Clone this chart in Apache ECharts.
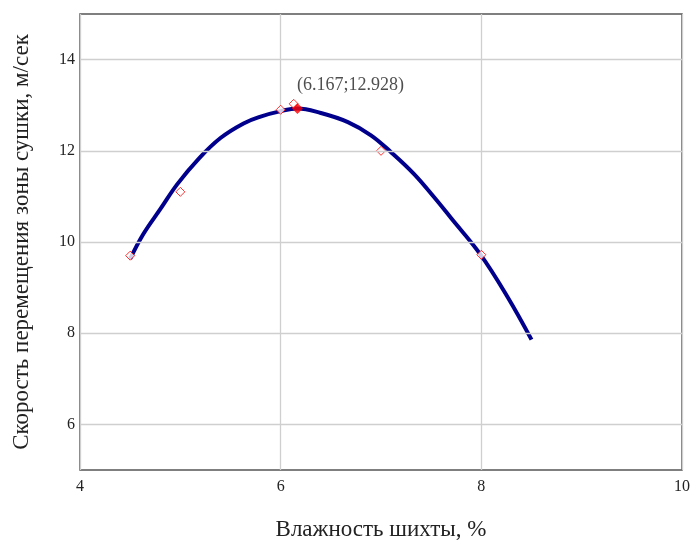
<!DOCTYPE html>
<html>
<head>
<meta charset="utf-8">
<script src="https://cdn.jsdelivr.net/npm/echarts@6/dist/echarts.min.js"></script>
<style>
  html, body { margin: 0; padding: 0; background: #fff; }
  #chart { width: 694px; height: 542px; }
</style>
</head>
<body>
<div id="chart"></div>
<script>
  // measured points (hollow diamonds)
  const measX = [4.5, 5, 6, 6.13, 7, 8];
  const measY = [9.7, 11.1, 12.9, 13.03, 12.0, 9.72];

  // fitted curve
  const fitX = [4.5, 4.63, 4.8, 4.97, 5.18, 5.4, 5.63, 5.8, 6.0, 6.167, 6.4, 6.67, 6.9, 7.1, 7.33, 7.53, 7.7, 7.99, 8.26, 8.5];
  const fitY = [9.63, 10.17, 10.72, 11.27, 11.82, 12.28, 12.6, 12.75, 12.87, 12.928, 12.83, 12.63, 12.34, 11.97, 11.49, 10.98, 10.52, 9.73, 8.8, 7.86];

  // maximum
  const maxX = 6.167;
  const maxY = 12.928;

  const yTicks = [6, 8, 10, 12, 14];

  const serif = '"Liberation Serif", "DejaVu Serif", serif';

  let chart = echarts.init(document.getElementById('chart'));
  chart.setOption({
    animation: false,
    grid: {
      left: 80,
      right: 12,
      top: 14,
      bottom: 72,
      outerBoundsMode: 'none',
      containLabel: false,
      show: true,
      borderColor: '#555',
      borderWidth: 1.5
    },
    xAxis: {
      type: 'value',
      min: 4,
      max: 10,
      interval: 2,
      name: 'Влажность шихты, %',
      nameLocation: 'middle',
      nameGap: 48,
      nameTextStyle: { fontFamily: serif, fontSize: 23, color: '#222' },
      axisLine: { show: false },
      axisTick: { show: false },
      axisLabel: { fontFamily: serif, fontSize: 16, color: '#222', margin: 9 },
      splitLine: { lineStyle: { color: '#cfcfcf', width: 1.3 } }
    },
    yAxis: {
      type: 'value',
      min: 5,
      max: 15,
      interval: 1,
      name: 'Скорость перемещения зоны сушки, м/сек',
      nameLocation: 'middle',
      nameGap: 47,
      nameTextStyle: { fontFamily: serif, fontSize: 23, color: '#222' },
      axisLine: { show: false },
      axisTick: { show: false },
      axisLabel: {
        fontFamily: serif, fontSize: 16, color: '#222', margin: 5,
        formatter: function (v) { return yTicks.indexOf(v) >= 0 ? String(v) : ''; }
      },
      splitLine: { show: false }
    },
    series: [
      {
        name: 'grid',
        type: 'line',
        data: [],
        silent: true,
        markLine: {
          silent: true,
          symbol: 'none',
          label: { show: false },
          lineStyle: { color: '#cfcfcf', width: 1.3, type: 'solid' },
          data: yTicks.map(function (t) { return { yAxis: t }; })
        }
      },
      {
        name: 'fit',
        type: 'line',
        smooth: 0.4,
        showSymbol: false,
        lineStyle: { color: '#00008c', width: 4 },
        data: fitX.map(function (x, i) { return [x, fitY[i]]; }),
        z: 3
      },
      {
        name: 'measured',
        type: 'scatter',
        symbol: 'diamond',
        symbolSize: 9,
        itemStyle: { color: '#fff', borderColor: '#ff0000', borderWidth: 1 },
        data: measX.map(function (x, i) { return [x, measY[i]]; }),
        z: 4
      },
      {
        name: 'max',
        type: 'scatter',
        symbol: 'diamond',
        symbolSize: 11,
        itemStyle: { color: '#ff0000' },
        label: {
          show: true,
          position: 'top',
          offset: [53, -4],
          fontFamily: serif,
          fontSize: 18,
          color: '#222',
          formatter: '(' + maxX + ';' + maxY + ')'
        },
        data: [[maxX, maxY]],
        z: 5
      }
    ]
  });
</script>
</body>
</html>
